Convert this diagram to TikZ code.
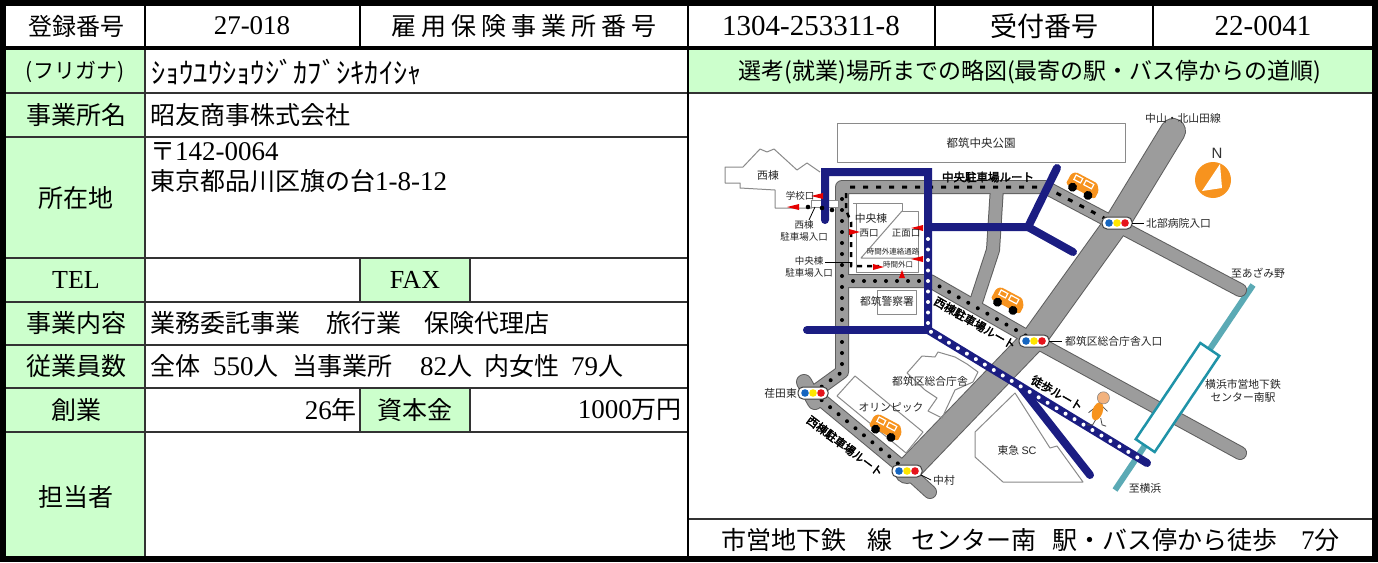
\documentclass[tikz,border=0pt]{standalone}
\usepackage{fontspec}
\setmainfont{Liberation Serif}
\newfontfamily\jp{Noto Sans CJK JP}
\newfontfamily\jpb{Noto Sans CJK JP}[FakeBold=2.5]
\newfontfamily\lsans{Liberation Sans}
\usetikzlibrary{calc}
\definecolor{lgreen}{HTML}{CCFFCC}
\definecolor{navyc}{HTML}{1B1D82}
\definecolor{roadc}{HTML}{9C9C9C}
\definecolor{roadedge}{HTML}{5E5E5E}
\definecolor{carc}{HTML}{F7931E}
\definecolor{railc}{HTML}{5BAAB5}
\definecolor{stationc}{HTML}{1F93A8}
\definecolor{bldc}{HTML}{8A8A8A}
\definecolor{tlblue}{HTML}{1565C0}
\definecolor{tlyellow}{HTML}{FFE600}
\definecolor{tlred}{HTML}{E5131B}
\definecolor{skin}{HTML}{F2B27E}
\begin{document}
\begin{tikzpicture}[x=1pt,y=-1pt,
  tline/.style={line width=1.5pt, draw=black!80},
  lbl/.style={font=\jp\fontsize{25}{28}\selectfont, inner sep=0pt},
  val/.style={font=\jp\fontsize{25}{28}\selectfont, inner sep=0pt, anchor=west},
  hdr/.style={font=\jp\fontsize{25}{28}\selectfont, inner sep=0pt},
  num/.style={font=\rmfamily\fontsize{29}{32}\selectfont, inner sep=0pt},
  mtxt/.style={font=\jp\fontsize{10.8}{12.5}\selectfont, inner sep=0pt, text=black!85},
  stxt/.style={font=\jp\fontsize{9.5}{11.8}\selectfont, inner sep=0pt, text=black!85},
  rtxt/.style={font=\jpb\fontsize{11.5}{13}\selectfont, inner sep=0pt},
  bld/.style={draw=bldc, line width=1pt, line join=round},
  rdout/.style={draw=roadedge, line cap=round, line join=round},
  rdin/.style={draw=roadc, line cap=round, line join=round},
  route/.style={draw=navyc, line width=8pt, line cap=round, line join=miter},
  bdots/.style={draw=black, line width=4pt, line cap=round, dash pattern=on 0pt off 11pt},
  wdots/.style={draw=white, line width=4pt, line cap=round, dash pattern=on 0pt off 10.5pt},
  flag/.style={fill=red!90!black},
  tlight/.pic={
    \draw[black!75, fill=white, rounded corners=5pt, line width=1pt] (-15,-6) rectangle (15,6);
    \fill[tlblue] (-8,0) circle (3.8);
    \fill[tlyellow] (0,0) circle (3.8);
    \fill[tlred] (8,0) circle (3.8);
  },
  van/.pic={
    \fill[carc, rounded corners=1.5pt] (-13,3) -- (-13,-6) -- (-10,-9) -- (9,-9) -- (13,-4) -- (13,3) -- cycle;
    \draw[white, line width=1.2pt] (-9,-7) rectangle (-3,-3) (0,-7) rectangle (7,-3);
    \fill[black] (-7,3) circle (3.6) (7,3) circle (3.6);
  },
  walker/.pic={
    \draw[black!70, line width=0.8pt] (-2,-2) -- (-7,2) (3,-3) -- (7,1) (-1,6) -- (-4,11) -- (-8,11) (2,6) -- (3,11) -- (6,12);
    \fill[carc, rotate=-20] (0,1) ellipse (3.8 and 7);
    \draw[black!50, fill=skin, line width=0.5pt] (4,-9) circle (4.5);
  }
]
\useasboundingbox (0,0) rectangle (1378,562);
\fill[white] (0,0) rectangle (1378,562);

% ---------- form fills ----------
\fill[lgreen] (4,48) rectangle (145,559);
\fill[lgreen] (360,258) rectangle (470,302);
\fill[lgreen] (360,388) rectangle (470,432);
\fill[lgreen] (688,48) rectangle (1374,93);

% ---------- form lines ----------
\foreach \yy in {93,137,258,302,345,388,432} \draw[tline] (4,\yy) -- (688,\yy);
\draw[tline] (145,48) -- (145,559);
\draw[tline] (360,258) -- (360,302) (470,258) -- (470,302) (360,388) -- (360,432) (470,388) -- (470,432);
\draw[tline] (688,93) -- (1374,93) (688,519) -- (1374,519);
\draw[line width=2pt] (145,3) -- (145,48) (360,3) -- (360,48) (688,3) -- (688,48) (935,3) -- (935,48) (1153,3) -- (1153,48);
\draw[line width=2.5pt] (688,48) -- (688,559);
\draw[line width=4pt] (4,48) -- (1374,48);
\draw[line width=6pt] (3,3) rectangle (1374.5,559);

% ---------- header row ----------
\node[hdr, font=\jp\fontsize{24}{28}\selectfont] (h1) at (76,26) {登録番号};
\node[num, font=\rmfamily\fontsize{27}{30}\selectfont] (h2) at (252,26) {27-018};
\node[hdr] (h3) at (524,26) {雇\hspace{5pt}用\hspace{5pt}保\hspace{5pt}険\hspace{5pt}事\hspace{5pt}業\hspace{5pt}所\hspace{5pt}番\hspace{5pt}号};
\node[num] (h4) at (811,26) {1304-253311-8};
\node[hdr, font=\jp\fontsize{27}{30}\selectfont] (h5) at (1044,26) {受付番号};
\node[num] (h6) at (1263,26) {22-0041};

% ---------- left labels ----------
\node[lbl, font=\jp\fontsize{21}{24}\selectfont] (l1) at (75,72) {(フリガナ)};
\node[lbl] (l2) at (76,115) {事業所名};
\node[lbl] (l3) at (76,198) {所在地};
\node[lbl, font=\rmfamily\fontsize{26}{28}\selectfont] (l4) at (76,280) {TEL};
\node[lbl, font=\rmfamily\fontsize{26}{28}\selectfont] (l5) at (415,280) {FAX};
\node[lbl] (l6) at (76,323) {事業内容};
\node[lbl] (l7) at (76,366) {従業員数};
\node[lbl] (l8) at (76,410) {創業};
\node[lbl] (l9) at (415,410) {資本金};
\node[lbl] (l10) at (76,497) {担当者};

% ---------- left values ----------
\node[val, font=\jp\fontsize{28.5}{30}\selectfont] (v1) at (151,72) {ｼｮｳﾕｳｼｮｳｼﾞｶﾌﾞｼｷｶｲｼｬ};
\node[val] (v2) at (150,115) {昭友商事株式会社};
\node[val] (v3) at (150,152) {〒{\rmfamily\fontsize{27}{28}\selectfont 142-0064}};
\node[val] (v4) at (150,181) {東京都品川区旗の台{\rmfamily\fontsize{27}{28}\selectfont 1-8-12}};
\node[val] (v5a) at (150,323) {業務委託事業};
\node[val] (v5b) at (326,323) {旅行業};
\node[val] (v5c) at (424,323) {保険代理店};
\node[val] (v6a) at (150,366) {全体};
\node[val] (v6b) at (213,366) {{\rmfamily\fontsize{27}{28}\selectfont 550}人};
\node[val] (v6c) at (292,366) {当事業所};
\node[val] (v6d) at (420,366) {{\rmfamily\fontsize{27}{28}\selectfont 82}人};
\node[val] (v6e) at (484,366) {内女性};
\node[val] (v6f) at (571,366) {{\rmfamily\fontsize{27}{28}\selectfont 79}人};
\node[val, anchor=east] (v7) at (357,410) {{\rmfamily\fontsize{27}{28}\selectfont 26}年};
\node[val, anchor=east] (v8) at (682,410) {{\rmfamily\fontsize{27}{28}\selectfont 1000}万円};

% ---------- right header / footer ----------
\node[hdr, font=\jp\fontsize{23}{26}\selectfont] (mh) at (1030,72) {選考(就業)場所までの略図(最寄の駅・バス停からの道順)};
\node[val] (f1) at (721,540) {市営地下鉄};
\node[val] (f2) at (867,540) {線};
\node[val] (f3) at (911,540) {センター南};
\node[val] (f4) at (1052,540) {駅・バス停から徒歩};
\node[val] (f5) at (1301,540) {{\rmfamily\fontsize{27}{28}\selectfont 7}分};

% ================= MAP =================
% park
\draw[bld] (837,123) rectangle (1125,162);
\node[mtxt, font=\jp\fontsize{11.5}{13}\selectfont] (park) at (981,143) {都筑中央公園};

% west building
\draw[bld] (820,172) -- (807,163) -- (797,170) -- (774,149) -- (767,152) -- (760,149) -- (743,167) -- (725,167) -- (725,183) -- (740,183) -- (740,188) -- (775,190) -- (775,208) -- (812,208);
\node[mtxt] (nishito) at (768,175) {西棟};

% rail line (under)
\draw[railc, line width=6pt] (1253,285) -- (1115,490);

% roads outlines
\draw[rdout, line width=14pt] (1240,290) -- (1045,187) -- (842,187) -- (842,372) -- (813,393) -- (907,471) -- (930,492);
\draw[rdout, line width=14pt] (842,281) -- (930,281) -- (1033,340) -- (1240,453);
\draw[rdout, line width=14pt] (997,187) -- (993,250) -- (975,305);
\draw[rdout, line width=26pt] (1173,131) -- (1117,223) -- (1033,340) -- (907,471);
\draw[rdout, line width=16pt] (804,382) -- (815,402);
% roads fill
\draw[rdin, line width=12pt] (1240,290) -- (1045,187) -- (842,187) -- (842,372) -- (813,393) -- (907,471) -- (930,492);
\draw[rdin, line width=12pt] (842,281) -- (930,281) -- (1033,340) -- (1240,453);
\draw[rdin, line width=12pt] (997,187) -- (993,250) -- (975,305);
\draw[rdin, line width=24pt] (1173,131) -- (1117,223) -- (1033,340) -- (907,471);
\draw[rdin, line width=14pt] (804,382) -- (815,402);

% black dots / dashes on roads
\draw[bdots] (842,199) -- (842,372) -- (813,393) -- (907,471);
\draw[bdots] (853,281) -- (930,281) -- (1030,338);
\draw[black, line width=3pt, dash pattern=on 5pt off 8pt] (850,187) -- (1045,187) -- (1106,219);

% buildings in map
\draw[bld] (853,203) -- (902,203) -- (902,211) -- (918,211) -- (918,272) -- (856,272) -- (856,203);
\draw[bld] (902,211) -- (861,258) -- (918,258);
\draw[bld] (877,290) rectangle (916,314);
\draw[bld] (907,373) -- (922,356) -- (935,357) -- (938,352) -- (955,357) -- (967,364) -- (978,372) -- (973,382) -- (955,390) -- (942,418) -- (928,411) -- (937,398) -- (925,390) -- cycle;
\draw[bld] (837,396) -- (855,376) -- (923,432) -- (906,453) -- cycle;
\draw[bld] (975,432) -- (1015,393) -- (1050,448) -- (1057,446) -- (1083,482) -- (1003,482) -- (975,457) -- cycle;
\draw[bld, fill=white] (811,200) rectangle (838,207);

% blue routes
\draw[route] (825,220) -- (825,172) -- (928,172) -- (928,330) -- (1147,463);
\draw[route] (807,330) -- (928,330);
\draw[route] (928,227) -- (1028,227) -- (1057,168);
\draw[route] (1028,227) -- (1073,252);
\draw[route] (1020,386) -- (1090,475);
\draw[wdots] (928,239) -- (928,330) -- (1140,459);

% dashed access path inside complex
\draw[black, line width=2.5pt, dash pattern=on 5pt off 5pt] (846,193) -- (846,210) -- (851,222) -- (851,266) -- (879,266);
\fill[black] (808,207) circle (2.3) (822,208) circle (2.3) (832,210) circle (2.3);

% red flags
\fill[flag] (811,196) -- (823,193) -- (823,199) -- cycle;
\fill[flag] (787,207) -- (799,204) -- (799,210) -- cycle;
\fill[flag] (860,232) -- (849,229) -- (849,235) -- cycle;
\fill[flag] (911,228) -- (923,225) -- (923,231) -- cycle;
\fill[flag] (911,259) -- (923,256) -- (923,262) -- cycle;
\fill[flag] (884,267) -- (873,264) -- (873,270) -- cycle;
\fill[flag] (902,270) -- (899,278) -- (905,278) -- cycle;

% complex labels
\node[mtxt] (chuo) at (871,218) {中央棟};
\node[stxt] (nishiguchi) at (869,233) {西口};
\node[stxt] (shomen) at (906,233) {正面口};
\node[stxt, font=\jp\fontsize{7.5}{9}\selectfont] (renraku) at (893,252) {時間外連絡通路};
\node[stxt, font=\jp\fontsize{7.5}{9}\selectfont] (jikangai) at (898,265) {時間外口};
\node[stxt] (gakko) at (800,196) {学校口};
\node[stxt, align=center] (nishipark) at (804,231) {西棟\\駐車場入口};
\node[stxt, align=center] (chuopark) at (809,267) {中央棟\\駐車場入口};
\draw[black, line width=0.8pt] (815,207) -- (809,220);
\draw[black, line width=0.8pt] (825,262) -- (851,262);
\node[mtxt, font=\jp\fontsize{10.8}{12}\selectfont] (police) at (887,301) {都筑警察署};
\node[mtxt] (sogo) at (930,381) {都筑区総合庁舎};
\node[mtxt] (olym) at (891,408) {オリンピック};
\node[mtxt] (tokyu) at (1017,450) {東急 {\lsans SC}};

% traffic lights
\pic at (1117,223) {tlight};
\pic at (1034,341) {tlight};
\pic at (813,393) {tlight};
\pic at (907,471) {tlight};
\draw[black, line width=0.8pt] (1132,223) -- (1144,223);
\draw[black, line width=0.8pt] (1049,341) -- (1062,341);
\draw[black, line width=0.8pt] (921,475) -- (931,480);
\node[mtxt, anchor=west] (hokubu) at (1146,223) {北部病院入口};
\node[mtxt, anchor=west] (sogoiri) at (1065,341) {都筑区総合庁舎入口};
\node[mtxt, anchor=east] (edahigashi) at (797,393) {荏田東};
\node[mtxt, anchor=west] (nakamura) at (933,480) {中村};
\node[mtxt] (nakayama) at (1183,118) {中山・北山田線};

% cars
\pic[rotate=-28, scale=1.25] at (1082,188) {van};
\pic[rotate=-28, scale=1.25] at (1007,303) {van};
\pic[rotate=-28, scale=1.25] at (885,430) {van};

% route labels
\node[rtxt] (chuoroute) at (988,177) {中央駐車場ルート};
\node[rtxt, rotate=-30] (nishiroute1) at (975,323) {西棟駐車場ルート};
\node[rtxt, rotate=-37] (nishiroute2) at (845,446) {西棟駐車場ルート};
\node[rtxt, rotate=-30] (tohoroute) at (1057,393) {徒歩ルート};
\pic[scale=1.35] at (1098,410) {walker};

% station
\draw[stationc, fill=white, line width=2.5pt, line join=miter] (1200.3,343.0) -- (1219.3,355.8) -- (1154.7,452.0) -- (1135.7,439.2) -- cycle;
\node[mtxt, align=center] (station) at (1243,391) {横浜市営地下鉄\\センター南駅};
\node[mtxt] (azamino) at (1258,273) {至あざみ野};
\node[mtxt] (yokohama) at (1145,488) {至横浜};

% compass
\fill[carc] (1213,180) circle (18);
\fill[white] (1220,164) -- (1202,191) -- (1222,188) -- cycle;
\node[font=\lsans\fontsize{15}{16}\selectfont, inner sep=0pt, text=black!80] (north) at (1217,153) {N};
\end{tikzpicture}
\end{document}
